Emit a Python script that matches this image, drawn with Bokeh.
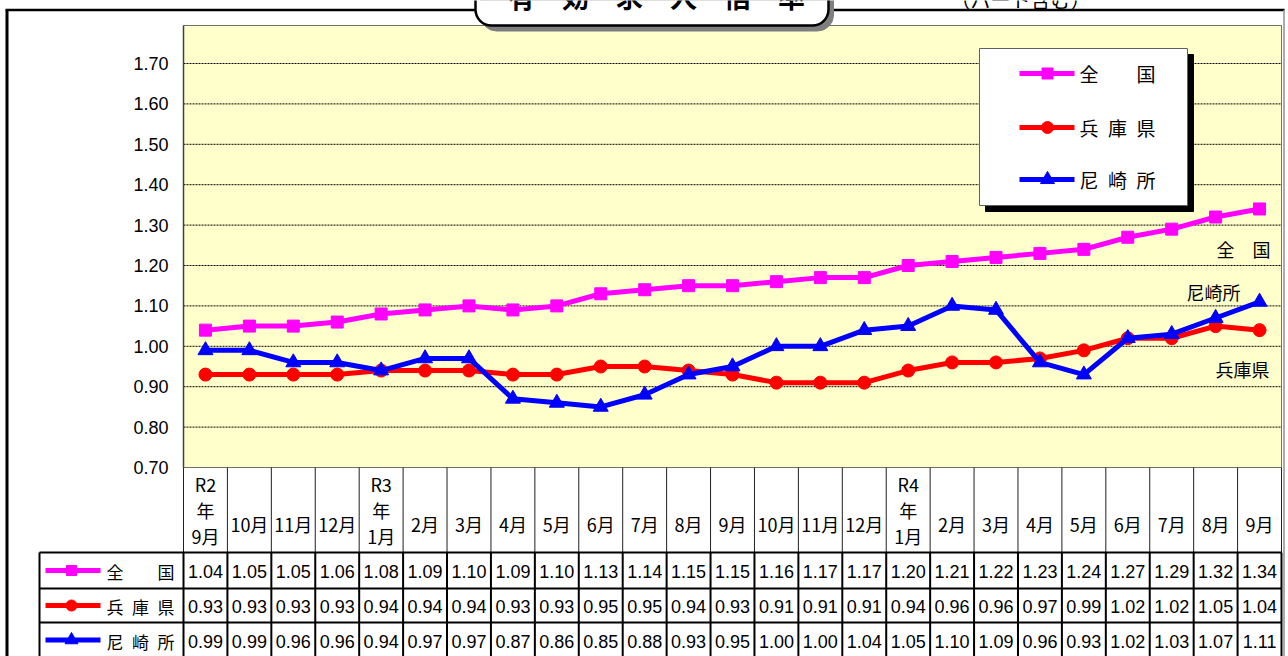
from bokeh.plotting import figure
from bokeh.models import Range1d
from bokeh.core.properties import value
from bokeh.embed import file_html
from bokeh.resources import INLINE

# ---------------- data ----------------
months = ["R2\n年\n9月", "10月", "11月", "12月", "R3\n年\n1月", "2月", "3月", "4月", "5月",
          "6月", "7月", "8月", "9月", "10月", "11月", "12月", "R4\n年\n1月", "2月", "3月",
          "4月", "5月", "6月", "7月", "8月", "9月"]
zenkoku = [1.04, 1.05, 1.05, 1.06, 1.08, 1.09, 1.10, 1.09, 1.10, 1.13, 1.14, 1.15, 1.15,
           1.16, 1.17, 1.17, 1.20, 1.21, 1.22, 1.23, 1.24, 1.27, 1.29, 1.32, 1.34]
hyogo = [0.93, 0.93, 0.93, 0.93, 0.94, 0.94, 0.94, 0.93, 0.93, 0.95, 0.95, 0.94, 0.93,
         0.91, 0.91, 0.91, 0.94, 0.96, 0.96, 0.97, 0.99, 1.02, 1.02, 1.05, 1.04]
amagasaki = [0.99, 0.99, 0.96, 0.96, 0.94, 0.97, 0.97, 0.87, 0.86, 0.85, 0.88, 0.93, 0.95,
             1.00, 1.00, 1.04, 1.05, 1.10, 1.09, 0.96, 0.93, 1.02, 1.03, 1.07, 1.11]
series_names = ["全\u3000\u3000国", "兵\u2002庫\u2002県", "尼\u2002崎\u2002所"]
end_labels = ["全\u3000国", "兵庫県", "尼崎所"]
y_ticks = [0.70, 0.80, 0.90, 1.00, 1.10, 1.20, 1.30, 1.40, 1.50, 1.60, 1.70]
title_text = "有\u3000効\u3000求\u3000人\u3000倍\u3000率"
sub_text = "（パート含む）"

# ---------------- layout (screen pixels) ----------------
W, H = 1288, 656
PLOT_L, PLOT_R = 183.0, 1281.0
N = len(months)
COLW = (PLOT_R - PLOT_L) / N
V0 = 0.70
V0_PX = 467.0
PXU = 404.0
PLOT_TOP_PX = 25.0
HDR_BOT = 552.0
ROW_Y = [552.0, 588.0, 622.0, 657.0]
LEFT_CELL = 39.0
JP = value("Noto Sans CJK JP")
NUMF = value("Liberation Sans")

colors = ["#FF00FF", "#FF0000", "#0000FF"]
markers = ["square", "circle", "triangle"]
msize = [12, 13, 15]
series = [zenkoku, hyogo, amagasaki]

p = figure(width=W, height=H, output_backend="svg", toolbar_location=None,
           x_range=Range1d(-0.5 - PLOT_L / COLW, -0.5 + (W - PLOT_L) / COLW),
           y_range=Range1d(V0 - (H - V0_PX) / PXU, V0 + V0_PX / PXU),
           x_axis_location=None, y_axis_location=None, min_border=0)
p.extra_x_ranges = {"px": Range1d(0, W)}
p.extra_y_ranges = {"px": Range1d(H, 0)}
p.grid.visible = False
p.outline_line_color = None
p.background_fill_color = "white"
p.border_fill_color = "white"

# outer frame
p.segment(x0=[5], y0=[9.5], x1=[1284], y1=[9.5], line_color="black", line_width=2.5,
          x_range_name="px", y_range_name="px")
p.segment(x0=[6.5], y0=[9.5], x1=[6.5], y1=[H], line_color="black", line_width=3,
          x_range_name="px", y_range_name="px")
p.segment(x0=[1283.5], y0=[9.5], x1=[1283.5], y1=[H], line_color="#909090", line_width=1.5,
          x_range_name="px", y_range_name="px")

# plot area
ytop = V0 + (V0_PX - PLOT_TOP_PX) / PXU
p.quad(left=[-0.5], right=[N - 0.5], bottom=[V0], top=[ytop], fill_color="#FFFFCC",
       line_color="#707070", line_width=1)
grid_vals = [t for t in y_ticks if t > V0 + 1e-9]
p.segment(x0=[-0.5] * len(grid_vals), y0=grid_vals, x1=[N - 0.5] * len(grid_vals), y1=grid_vals,
          line_color="black", line_width=1, line_dash="2 1")
p.segment(x0=[-0.5], y0=[V0], x1=[-0.5], y1=[ytop], line_color="#404040", line_width=1.5)

# y tick labels
p.text(x=[168] * len(y_ticks), y=y_ticks, text=["%.2f" % t for t in y_ticks],
       x_range_name="px", text_align="right", text_baseline="middle",
       text_font=NUMF, text_font_size="18px", text_color="black")

# series
xs = list(range(N))
for vals, c, m, s in zip(series, colors, markers, msize):
    p.line(x=xs, y=vals, line_color=c, line_width=5)
    p.scatter(x=xs, y=vals, marker=m, size=s, fill_color=c, line_color=c)

# chart legend
LG = (979.0, 1187.0, 48.0, 205.0)
p.quad(left=[LG[0] + 6], right=[LG[1] + 6], top=[LG[2] + 6], bottom=[LG[3] + 6],
       fill_color="black", line_color="black", x_range_name="px", y_range_name="px")
p.quad(left=[LG[0]], right=[LG[1]], top=[LG[2]], bottom=[LG[3]],
       fill_color="white", line_color="#606060", line_width=1, x_range_name="px", y_range_name="px")
leg_y = [73.0, 127.0, 179.0]
for ly, c, m, s, name in zip(leg_y, colors, markers, msize, series_names):
    p.line(x=[1019, 1074], y=[ly, ly], line_color=c, line_width=5,
           x_range_name="px", y_range_name="px")
    p.scatter(x=[1047], y=[ly], marker=m, size=s - 1, fill_color=c, line_color=c,
              x_range_name="px", y_range_name="px")
    p.text(x=[1079], y=[ly], text=[name], text_baseline="middle", text_align="left",
           text_font=JP, text_font_size="19px", text_color="black",
           x_range_name="px", y_range_name="px")

# end labels
p.text(x=[1270, 1240, 1269], y=[248, 291, 368], text=[end_labels[0], end_labels[2], end_labels[1]],
       text_align="right", text_baseline="middle", text_font=JP, text_font_size="18px",
       text_color="black", x_range_name="px", y_range_name="px")

# ---------------- table ----------------
bounds = [i - 0.5 for i in range(N + 1)]
p.segment(x0=bounds, y0=[V0_PX] * len(bounds), x1=bounds, y1=[HDR_BOT] * len(bounds),
          line_color="#202020", line_width=1, y_range_name="px")
p.segment(x0=bounds, y0=[HDR_BOT] * len(bounds), x1=bounds, y1=[H] * len(bounds),
          line_color="black", line_width=2, y_range_name="px")
p.segment(x0=[LEFT_CELL], y0=[HDR_BOT], x1=[LEFT_CELL], y1=[H], line_color="black", line_width=2,
          x_range_name="px", y_range_name="px")
hy = ROW_Y[:3]
p.segment(x0=[LEFT_CELL] * 3, y0=hy, x1=[PLOT_R] * 3, y1=hy, line_color="black",
          line_width=2, x_range_name="px", y_range_name="px")

# header labels
hdr_y = [509.0 if "\n" in m else 523.0 for m in months]
p.text(x=xs, y=hdr_y, text=months, text_align="center", text_baseline="middle",
       text_font=JP, text_font_size="18px", text_color="black", text_line_height=1.0,
       y_range_name="px")

# value rows
for r, vals in enumerate(series):
    cy = (ROW_Y[r] + ROW_Y[r + 1]) / 2 + 1
    p.text(x=xs, y=[cy] * N, text=["%.2f" % v for v in vals], text_align="center",
           text_baseline="middle", text_font=NUMF, text_font_size="18px", text_color="black",
           y_range_name="px")
    p.line(x=[45, 100], y=[cy - 1, cy - 1], line_color=colors[r], line_width=5,
           x_range_name="px", y_range_name="px")
    p.scatter(x=[71], y=[cy - 1], marker=markers[r], size=msize[r] - 2, fill_color=colors[r],
              line_color=colors[r], x_range_name="px", y_range_name="px")
    p.text(x=[106], y=[cy], text=[series_names[r]], text_align="left", text_baseline="middle",
           text_font=JP, text_font_size="17px", text_color="black",
           x_range_name="px", y_range_name="px")

# ---------------- title box ----------------
p.quad(left=[480], right=[833], top=[-40], bottom=[30.5], fill_color="#7F7F7F",
       line_color="#7F7F7F", border_radius=16, x_range_name="px", y_range_name="px")
p.quad(left=[475], right=[828], top=[-40], bottom=[25], fill_color="white",
       line_color="black", line_width=2.5, border_radius=16, x_range_name="px", y_range_name="px")
p.text(x=[656], y=[-4], text=[title_text], text_align="center", text_baseline="alphabetic",
       text_font=JP, text_font_style="bold", text_font_size="27px", text_color="black",
       x_range_name="px", y_range_name="px")
p.text(x=[1020], y=[-1], text=[sub_text], text_align="center", text_baseline="alphabetic",
       text_font=JP, text_font_size="20px", text_color="black",
       x_range_name="px", y_range_name="px")

open("out.html", "w").write(file_html(p, INLINE))
